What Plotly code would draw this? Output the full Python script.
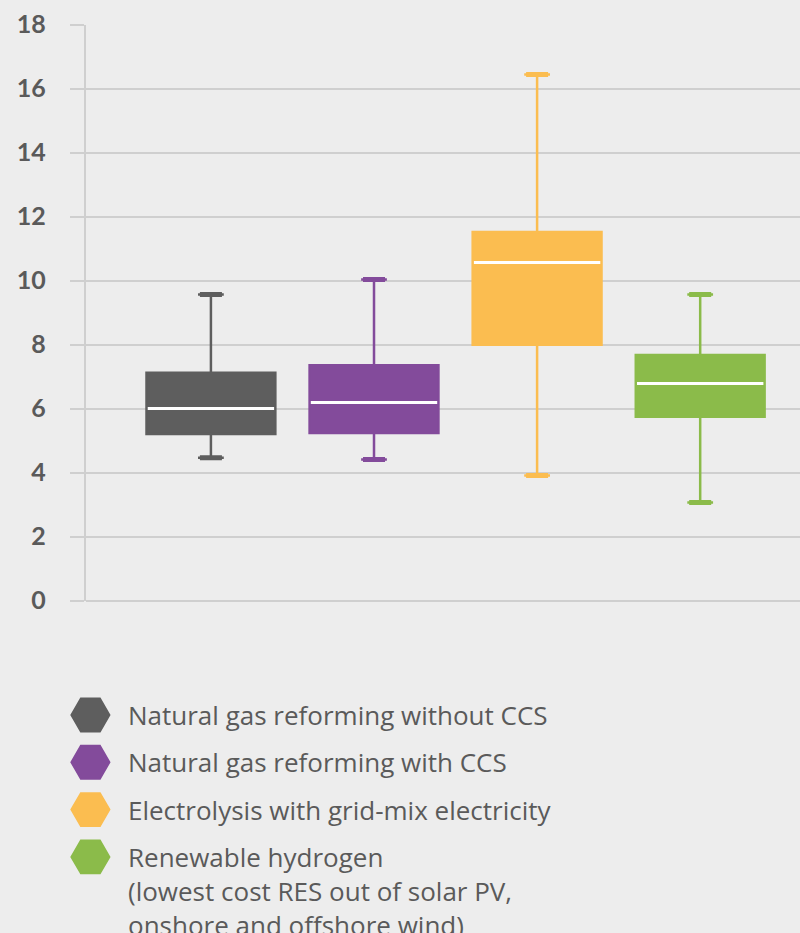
import plotly.graph_objects as go

# ---- data ----
categories = [
    "Natural gas reforming without CCS",
    "Natural gas reforming with CCS",
    "Electrolysis with grid-mix electricity",
    "Renewable hydrogen",
]
legend_labels = [
    "Natural gas reforming without CCS",
    "Natural gas reforming with CCS",
    "Electrolysis with grid-mix electricity",
    "Renewable hydrogen<br>(lowest cost RES out of solar PV,<br>onshore and offshore wind)",
]
colors = ["#5e5e5e", "#834b9b", "#fbbd50", "#8bbb4a"]
lower_fence = [4.47, 4.41, 3.91, 3.07]
q1_vals = [5.21, 5.24, 8.00, 5.75]
median_vals = [6.01, 6.19, 10.57, 6.79]
q3_vals = [7.12, 7.36, 11.52, 7.68]
upper_fence = [9.57, 10.04, 16.44, 9.57]
y_tick_vals = [0, 2, 4, 6, 8, 10, 12, 14, 16, 18]

TEXT = "#5a5a5a"
BG = "#ededed"
GRID = "#cfcfcf"

fig = go.Figure()
positions = list(range(len(categories)))

# main boxes
for i, c in enumerate(colors):
    fig.add_trace(go.Box(
        x=[positions[i]], q1=[q1_vals[i]], median=[median_vals[i]], q3=[q3_vals[i]],
        lowerfence=[lower_fence[i]], upperfence=[upper_fence[i]],
        width=0.79, whiskerwidth=0.2, fillcolor=c, line=dict(color=c, width=2.5),
        name=categories[i], showlegend=False, hoverinfo="skip",
    ))

# white median lines
for i, c in enumerate(colors):
    fig.add_trace(go.Box(
        x=[positions[i]], q1=[median_vals[i]], median=[median_vals[i]], q3=[median_vals[i]],
        lowerfence=[median_vals[i]], upperfence=[median_vals[i]],
        width=0.775, whiskerwidth=0, fillcolor="white", line=dict(color="white", width=3),
        showlegend=False, hoverinfo="skip",
    ))

# thicker whisker caps
for i, c in enumerate(colors):
    for v in (upper_fence[i], lower_fence[i]):
        fig.add_trace(go.Box(
            x=[positions[i]], q1=[v], median=[v], q3=[v], lowerfence=[v], upperfence=[v],
            width=0.135, whiskerwidth=0, fillcolor=c, line=dict(color=c, width=5),
            showlegend=False, hoverinfo="skip",
        ))

# custom legend: hexagon markers
legend_rows = list(range(len(legend_labels)))
fig.add_trace(go.Scatter(
    x=[0.113] * len(legend_rows), y=legend_rows, mode="markers",
    marker=dict(symbol="hexagon2", size=38, color=colors, line=dict(color=colors, width=2)),
    xaxis="x2", yaxis="y2", showlegend=False, hoverinfo="skip",
))

LINE_STEP = 0.72  # legend rows per text line (in y2 units)
annotations = []
for i, lab in enumerate(legend_labels):
    extra = lab.count("<br>")
    annotations.append(dict(
        x=0.158, y=legend_rows[i] + LINE_STEP * extra / 2,
        xref="paper", yref="y2", text=lab, showarrow=False,
        xanchor="left", yanchor="middle", align="left",
        font=dict(family="Open Sans, sans-serif", size=26, color=TEXT),
    ))

fig.update_layout(
    width=800, height=933,
    margin=dict(l=0, r=0, t=0, b=0),
    paper_bgcolor=BG, plot_bgcolor=BG,
    boxmode="overlay",
    annotations=annotations,
    xaxis=dict(domain=[85.5 / 800, 1], range=[-0.769, 3.612], showgrid=False,
               zeroline=False, showticklabels=False, ticks="", showline=False, fixedrange=True),
    yaxis=dict(domain=[(933 - 600.7) / 933, (933 - 24.7) / 933], range=[0, 18],
               tickvals=y_tick_vals, showgrid=True, gridcolor=GRID, gridwidth=1.5,
               zeroline=True, zerolinecolor=GRID, zerolinewidth=1.5,
               showline=True, linecolor=GRID, linewidth=1.5,
               ticks="outside", ticklen=14, tickcolor=GRID, tickwidth=1.5,
               ticklabelstandoff=19, automargin=False,
               tickfont=dict(family="Lato, sans-serif", size=25, color=TEXT, weight="bold")),
    xaxis2=dict(domain=[0, 1], range=[0, 1], visible=False, fixedrange=True),
    yaxis2=dict(domain=[0, 0.3], range=[4.61, -1.31], visible=False, fixedrange=True),
)

fig.write_html(
    "out.html",
    config={"displayModeBar": False},
    post_script="document.body.style.margin='0px';document.body.style.overflow='hidden';",
)
